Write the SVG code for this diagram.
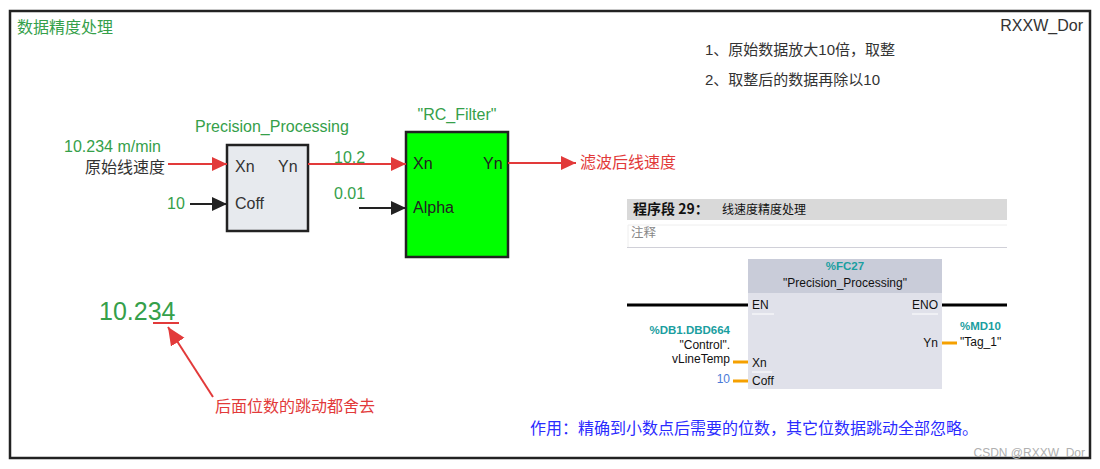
<svg xmlns="http://www.w3.org/2000/svg" width="1100" height="469" viewBox="0 0 1100 469">
<style>
text{font-family:"Liberation Sans","Noto Sans CJK SC",sans-serif;}
.g{fill:#35a04a;font-size:16px;}
.d{fill:#333;font-size:16px;}
.r{fill:#e23a3a;font-size:16px;}
.s{font-family:"Liberation Sans","Noto Sans CJK SC",sans-serif;font-size:12px;fill:#111;}
.t{fill:#1a9ea0;font-weight:bold;font-size:11.5px;}
.red{stroke:#e23a3a;stroke-width:2;fill:none;}
.blk{stroke:#222;stroke-width:2;fill:none;}
.org{stroke:#f5a000;stroke-width:3;}
</style>
<defs>
<marker id="ar" markerUnits="userSpaceOnUse" markerWidth="16" markerHeight="16" refX="15" refY="7" orient="auto"><path d="M0,0 L15,7 L0,14 z" fill="#e23a3a"/></marker>
<marker id="ab" markerUnits="userSpaceOnUse" markerWidth="16" markerHeight="16" refX="15" refY="7" orient="auto"><path d="M0,0 L15,7 L0,14 z" fill="#222"/></marker>
<marker id="arb" markerUnits="userSpaceOnUse" markerWidth="20" markerHeight="20" refX="18" refY="8" orient="auto"><path d="M0,0 L18,8 L0,16 z" fill="#e23a3a"/></marker>
</defs>
<rect width="1100" height="469" fill="#fff"/>
<rect x="10" y="11" width="1080" height="447" fill="none" stroke="#222" stroke-width="2.5"/>

<g id="title"><text class="g" x="17" y="33">数据精度处理</text></g>
<g id="author"><text class="d" x="1083" y="31" text-anchor="end">RXXW_Dor</text></g>
<g id="notes">
<text x="705" y="55" style="font-size:15px;fill:#333">1、原始数据放大10倍，取整</text>
<text x="705" y="85" style="font-size:15px;fill:#333">2、取整后的数据再除以10</text>
</g>

<g id="input">
<text class="g" x="64" y="152">10.234 m/min</text>
<text class="d" x="165" y="173" text-anchor="end">原始线速度</text>
</g>
<g id="coff-in"><text class="g" x="167" y="209">10</text></g>

<g id="precision">
<text class="g" x="272" y="132" text-anchor="middle">Precision_Processing</text>
<rect x="227" y="145" width="81" height="86" fill="#e7eaee" stroke="#222" stroke-width="2.5"/>
<text class="d" x="235" y="172">Xn</text>
<text class="d" x="278" y="172">Yn</text>
<text class="d" x="235" y="209">Coff</text>
</g>

<g id="rcfilter">
<text class="g" x="457" y="120" text-anchor="middle">"RC_Filter"</text>
<rect x="406" y="132" width="102" height="125" fill="#00ff00" stroke="#222" stroke-width="2.5"/>
<text class="d" x="413" y="169" style="fill:#222">Xn</text>
<text class="d" x="483" y="169" style="fill:#222">Yn</text>
<text class="d" x="413" y="213" style="fill:#222">Alpha</text>
</g>

<g id="values">
<text class="g" x="334" y="163">10.2</text>
<text class="g" x="334" y="199">0.01</text>
</g>

<g id="output"><text class="r" x="580" y="168">滤波后线速度</text></g>

<g id="example">
<text x="99" y="320" style="font-size:25px;fill:#35a04a">10.234</text>
<line x1="153" y1="323" x2="179" y2="323" stroke="#e23a3a" stroke-width="2"/>
<text class="r" x="215" y="412">后面位数的跳动都舍去</text>
</g>

<g id="connectors">
<line class="red" x1="168" y1="164" x2="227" y2="164" marker-end="url(#ar)"/>
<line class="blk" x1="190" y1="204" x2="227" y2="204" marker-end="url(#ab)"/>
<line class="red" x1="308" y1="164" x2="406" y2="164" marker-end="url(#ar)"/>
<line class="blk" x1="359" y1="208" x2="406" y2="208" marker-end="url(#ab)"/>
<line class="red" x1="508" y1="163" x2="576" y2="163" marker-end="url(#ar)"/>
<line class="red" x1="213" y1="397" x2="168" y2="327" marker-end="url(#arb)"/>
</g>

<g id="plc">
<rect x="627" y="199" width="380" height="21" fill="#d9d9d9"/>
<text x="633" y="214" style="font-family:'Noto Sans CJK SC',sans-serif;font-size:14px;font-weight:bold;fill:#111">程序段 29：</text>
<text x="722" y="214" style="font-family:'Noto Sans CJK SC',sans-serif;font-size:12px;fill:#111">线速度精度处理</text>
<line x1="628" y1="225" x2="1007" y2="225" stroke="#eeeeee" stroke-width="1"/>
<line x1="628" y1="225" x2="628" y2="247" stroke="#eeeeee" stroke-width="1"/>
<line x1="627" y1="247.5" x2="1007" y2="247.5" stroke="#d0d0d8" stroke-width="1.2"/>
<text x="631" y="237" style="font-family:'Noto Sans CJK SC',sans-serif;font-size:12.5px;fill:#888">注释</text>

<rect x="748" y="259" width="194" height="130" fill="#e0e1ea"/>
<rect x="748" y="259" width="194" height="34" fill="#c9ccd9"/>
<text class="s t" x="845" y="270" text-anchor="middle">%FC27</text>
<text class="s" x="845" y="287" text-anchor="middle">"Precision_Processing"</text>
<line x1="627" y1="305" x2="748" y2="305" stroke="#000" stroke-width="3"/>
<line x1="942" y1="305" x2="1007" y2="305" stroke="#000" stroke-width="3"/>
<text class="s" x="752" y="309">EN</text>
<text class="s" x="938" y="309" text-anchor="end">ENO</text>
<line x1="752" y1="314" x2="774" y2="314" stroke="#fff" stroke-width="1"/>
<line x1="912" y1="314" x2="938" y2="314" stroke="#fff" stroke-width="1"/>
<text class="s t" x="730" y="334" text-anchor="end">%DB1.DBD664</text>
<text class="s" x="730" y="349" text-anchor="end">"Control".</text>
<text class="s" x="730" y="363" text-anchor="end">vLineTemp</text>
<line class="org" x1="733" y1="362" x2="748" y2="362"/>
<text class="s" x="752" y="367">Xn</text>
<line x1="752" y1="372" x2="772" y2="372" stroke="#fff" stroke-width="1"/>
<text class="s" x="730" y="383" text-anchor="end" style="fill:#4a7ad8">10</text>
<line class="org" x1="733" y1="381" x2="748" y2="381"/>
<text class="s" x="752" y="385">Coff</text>
<text class="s t" x="960" y="330">%MD10</text>
<text class="s" x="960" y="346">"Tag_1"</text>
<text class="s" x="938" y="347" text-anchor="end">Yn</text>
<line class="org" x1="942" y1="343" x2="957" y2="343"/>
</g>

<g id="summary"><text x="530" y="434" style="font-size:16px;fill:#2b2bff">作用：精确到小数点后需要的位数，其它位数据跳动全部忽略。</text></g>
<g id="watermark"><text x="1085" y="457" text-anchor="end" style="font-size:12px;fill:#b0b0b0">CSDN @RXXW_Dor</text></g>
</svg>
